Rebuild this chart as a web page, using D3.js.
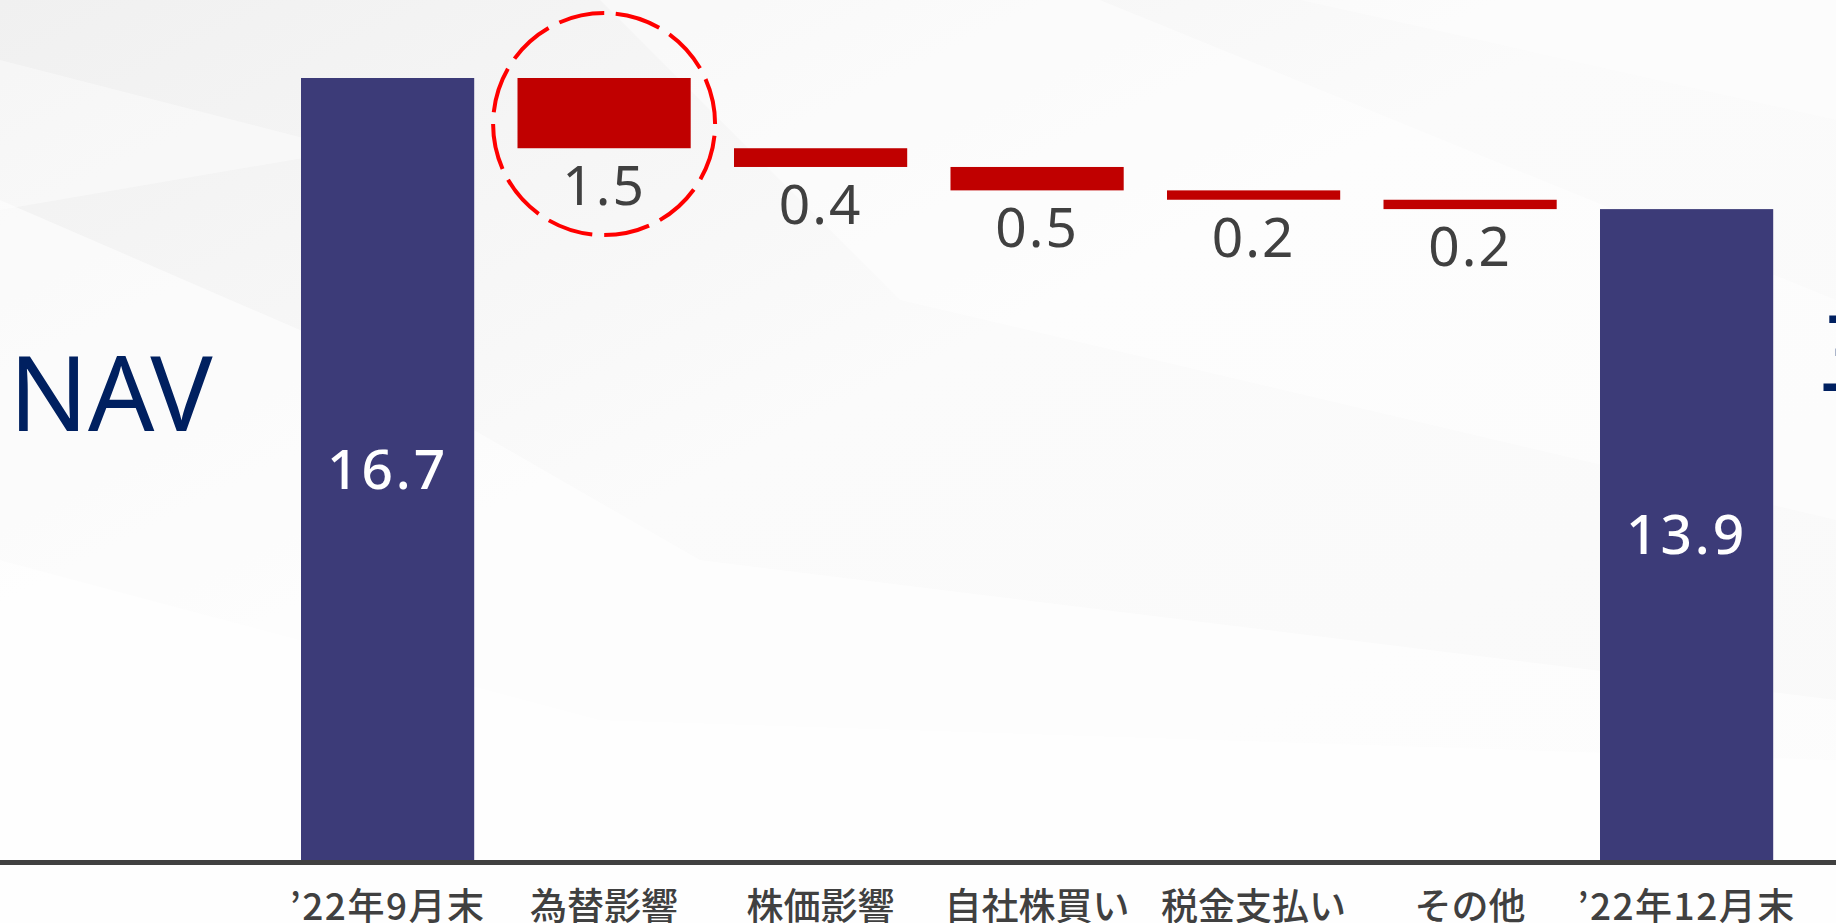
<!DOCTYPE html>
<html>
<head>
<meta charset="utf-8">
<script src="https://cdn.jsdelivr.net/npm/d3@7"></script>
<style>
html,body{margin:0;padding:0;overflow:hidden;background:#f8f8f8;}
svg{display:block;}
</style>
</head>
<body>
<svg id="chart" width="1836" height="923"></svg>
<script>
// ---- data ----
const categories = ["’22年9月末","為替影響","株価影響","自社株買い","税金支払い","その他","’22年12月末"];
const values = [16.7, -1.5, -0.4, -0.5, -0.2, -0.2, 13.9];
const kinds = ["total","delta","delta","delta","delta","delta","total"];
const valueLabels = ["16.7","1.5","0.4","0.5","0.2","0.2","13.9"];
const highlightCategory = "為替影響";
const sideTitle = "NAV";
const rightTitle = "三";

// ---- layout ----
const W = 1836, H = 923;
const svg = d3.select("#chart");

// background
const bg = svg.append("g");
bg.append("rect").attr("width", W).attr("height", H).attr("fill", "#f7f7f7");
const lg = svg.append("defs").append("linearGradient").attr("id","bgGrad")
  .attr("x1","0").attr("y1","0").attr("x2","1").attr("y2","1");
lg.append("stop").attr("offset","0").attr("stop-color","#f0f0f0");
lg.append("stop").attr("offset","0.45").attr("stop-color","#fbfbfb");
lg.append("stop").attr("offset","1").attr("stop-color","#f9f9f9");
bg.append("rect").attr("width", W).attr("height", H).attr("fill", "url(#bgGrad)");
const shapes = [
  [[0,200],[300,330],[700,560],[1836,700],[1836,923],[0,923]],
  [[0,560],[600,720],[1836,760],[1836,923],[0,923]],
  [[600,0],[1100,0],[1836,300],[1836,520],[900,300]],
  [[0,60],[350,150],[0,210]],
  [[1300,0],[1836,0],[1836,120]]
];
bg.selectAll("path.shape").data(shapes).join("path").attr("class","shape")
  .attr("d", d => "M" + d.map(p => p.join(",")).join("L") + "Z")
  .attr("fill", "#ffffff").attr("opacity", (d,i) => [0.55,0.5,0.45,0.4,0.35][i]);

// scales
const x = d3.scaleBand().domain(categories).range([257.7, 1816.5]).padding(0.2);
const y = d3.scaleLinear().domain([0, 16.7]).range([860, 78]);

// compute waterfall
let running = 0;
const bars = categories.map((c, i) => {
  let y0, y1;
  if (kinds[i] === "total") { y0 = 0; y1 = values[i]; running = values[i]; }
  else { y0 = running + values[i]; y1 = running; running = y0; }
  return {cat: c, kind: kinds[i], lo: Math.min(y0,y1), hi: Math.max(y0,y1), label: valueLabels[i]};
});

const g = svg.append("g");
g.selectAll("rect.bar").data(bars).join("rect").attr("class","bar")
  .attr("x", d => x(d.cat))
  .attr("width", x.bandwidth())
  .attr("y", d => y(d.hi))
  .attr("height", d => y(d.lo) - y(d.hi))
  .attr("fill", d => d.kind === "total" ? "#3c3b78" : "#c00000");

// value labels
g.selectAll("text.val").data(bars).join("text").attr("class","val")
  .attr("x", d => x(d.cat) + x.bandwidth()/2)
  .attr("y", d => d.kind === "total" ? (y(d.lo) + y(d.hi))/2 : y(d.lo) + 37)
  .attr("dy", "0.36em")
  .attr("text-anchor", "middle")
  .attr("font-family", "'Noto Sans', 'Open Sans', sans-serif")
  .attr("font-size", d => d.kind === "total" ? 55 : 55)
  .attr("letter-spacing", d => d.kind === "total" ? 3 : 2)
  .attr("font-weight", d => d.kind === "total" ? 500 : 400)
  .attr("fill", d => d.kind === "total" ? "#ffffff" : "#404040")
  .text(d => d.label);

// highlight circle
const hb = bars.find(b => b.cat === highlightCategory);
const hcx = x(hb.cat) + x.bandwidth()/2, hcy = (y(hb.hi) + y(hb.lo))/2 + 11;
svg.append("circle")
  .attr("cx", hcx).attr("cy", hcy)
  .attr("r", 111)
  .attr("fill", "none")
  .attr("stroke", "#ff0000")
  .attr("stroke-width", 4)
  .attr("stroke-dasharray", "46 12.1")
  .attr("transform", `rotate(-84 ${hcx} ${hcy})`);

// baseline
svg.append("line")
  .attr("x1", 0).attr("x2", W)
  .attr("y1", y(0) + 2.5).attr("y2", y(0) + 2.5)
  .attr("stroke", "#404040").attr("stroke-width", 5);

// category axis
const axis = svg.append("g").attr("transform", `translate(0,${y(0)})`)
  .call(d3.axisBottom(x).tickSize(0));
axis.select(".domain").remove();
axis.selectAll("text")
  .attr("y", 60).attr("dy", null)
  .attr("font-family", "'Noto Sans CJK JP', sans-serif")
  .attr("font-size", 37)
  .attr("font-weight", 500)
  .attr("letter-spacing", d => /\d/.test(d) ? 1.5 : 0)
  .attr("fill", "#404040");

// side titles
svg.append("text").attr("x", 9).attr("y", 431)
  .attr("font-family", "'Noto Sans', sans-serif").attr("font-size", 104)
  .attr("fill", "#002060").text(sideTitle);
svg.append("text").attr("x", 1817).attr("y", 390)
  .attr("font-family", "'Noto Sans CJK JP', sans-serif").attr("font-size", 100)
  .attr("fill", "#002060").text(rightTitle);
</script>
</body>
</html>
